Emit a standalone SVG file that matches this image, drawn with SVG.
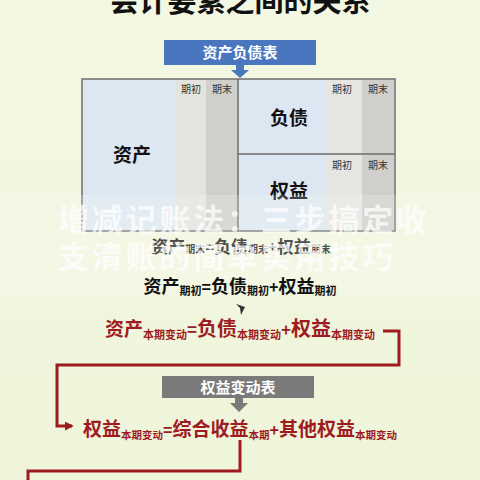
<svg xmlns="http://www.w3.org/2000/svg" width="480" height="480" viewBox="0 0 480 480">
<defs>
<style>
.cjk{font-family:"Noto Sans CJK SC","Noto Sans CJK TC",sans-serif;font-weight:bold}
.hd{font-family:"Noto Sans CJK SC",sans-serif;font-size:10px;fill:#333}
.red{fill:#9e1b1f}
.conn{fill:none;stroke:#9e1b1f;stroke-width:3}
</style>
<linearGradient id="bg" x1="0" y1="0" x2="0" y2="1">
<stop offset="0" stop-color="#f3f8e3"/>
<stop offset="1" stop-color="#eef5da"/>
</linearGradient>
<marker id="ah" viewBox="0 0 10 10" refX="8" refY="5" markerWidth="3" markerHeight="3" orient="auto">
<path d="M0,0 L10,5 L0,10 z" fill="#9e1b1f"/>
</marker>
</defs>
<rect width="480" height="480" fill="url(#bg)"/>
<text class="cjk" x="240" y="12" font-size="29" text-anchor="middle" fill="#111">会计要素之间的关系</text>

<g id="bs-title">
<rect x="164" y="40" width="152" height="25" fill="#4a76c0"/>
<text class="cjk" x="240" y="58" font-size="15" text-anchor="middle" fill="#fff">资产负债表</text>
<path d="M236,65 h8 v5 h5 l-9,8 l-9,-8 h5 z" fill="#4a76c0"/>
</g>

<g id="table">
<rect x="82" y="79" width="313" height="152" fill="#dde7f1" stroke="#6d6d6d" stroke-width="1.5"/>
<rect x="176" y="80" width="30" height="150" fill="#e3e4df"/>
<rect x="206" y="80" width="32" height="150" fill="#cfcfcb"/>
<rect x="325" y="80" width="37" height="150" fill="#e6e5e2"/>
<rect x="362" y="80" width="32" height="150" fill="#d0cfcb"/>
<line x1="238" y1="79" x2="238" y2="231" stroke="#6d6d6d" stroke-width="1.5"/>
<line x1="238" y1="154" x2="395" y2="154" stroke="#6d6d6d" stroke-width="1.5"/>
<text class="hd" x="191" y="93" text-anchor="middle">期初</text>
<text class="hd" x="222" y="93" text-anchor="middle">期末</text>
<text class="hd" x="342" y="93" text-anchor="middle">期初</text>
<text class="hd" x="378" y="93" text-anchor="middle">期末</text>
<text class="hd" x="342" y="169" text-anchor="middle">期初</text>
<text class="hd" x="378" y="169" text-anchor="middle">期末</text>
<text class="cjk" x="132" y="162" font-size="19" text-anchor="middle" fill="#111">资产</text>
<text class="cjk" x="289" y="125" font-size="19" text-anchor="middle" fill="#111">负债</text>
<text class="cjk" x="289" y="198" font-size="19" text-anchor="middle" fill="#111">权益</text>
</g>

<g id="eq-end">
<text class="cjk" x="241" y="253" text-anchor="middle" fill="#222"><tspan font-size="17">资产</tspan><tspan font-size="10">期末</tspan><tspan font-size="15">=</tspan><tspan font-size="17">负债</tspan><tspan font-size="10">期末</tspan><tspan font-size="15">+</tspan><tspan font-size="17">权益</tspan><tspan font-size="10">期末</tspan></text>
</g>

<rect x="0" y="195" width="480" height="100" fill="#ffffff" opacity="0.2"/>
<g id="watermark" opacity="0.72">
<text class="cjk" x="58" y="231" font-size="31" letter-spacing="2.8" fill="#ffffff">增减记账法：三步搞定收</text>
<text class="cjk" x="58" y="268" font-size="31" letter-spacing="2.8" fill="#ffffff">支清账的简单实用技巧</text>
</g>

<g id="eq-begin">
<text class="cjk" x="240" y="293" text-anchor="middle" fill="#111"><tspan font-size="18">资产</tspan><tspan font-size="11" dy="2">期初</tspan><tspan font-size="16" dy="-2">=</tspan><tspan font-size="18">负债</tspan><tspan font-size="11" dy="2">期初</tspan><tspan font-size="16" dy="-2">+</tspan><tspan font-size="18">权益</tspan><tspan font-size="11" dy="2">期初</tspan></text>
<path d="M236,304 L245,307 L241,315 L240,308 z" fill="#333"/>
</g>

<g id="eq-change">
<text class="cjk red" x="240" y="336" text-anchor="middle"><tspan font-size="19">资产</tspan><tspan font-size="11" dy="3">本期变动</tspan><tspan font-size="17" dy="-3">=</tspan><tspan font-size="20">负债</tspan><tspan font-size="11" dy="3">本期变动</tspan><tspan font-size="17" dy="-3">+</tspan><tspan font-size="20">权益</tspan><tspan font-size="11" dy="3">本期变动</tspan></text>
</g>

<g id="eq-title">
<rect x="162" y="376" width="152" height="22" fill="#7a7a7a"/>
<text class="cjk" x="238" y="393" font-size="15" text-anchor="middle" fill="#fff">权益变动表</text>
<path d="M235,398 h8 v5 h5 l-9,9 l-9,-9 h5 z" fill="#7a7a7a"/>
</g>

<g id="eq-equity">
<text class="cjk red" x="240" y="436" text-anchor="middle"><tspan font-size="19">权益</tspan><tspan font-size="10.5" dy="3">本期变动</tspan><tspan font-size="16" dy="-3">=</tspan><tspan font-size="19">综合收益</tspan><tspan font-size="10.5" dy="3">本期</tspan><tspan font-size="16" dy="-3">+</tspan><tspan font-size="19">其他权益</tspan><tspan font-size="10.5" dy="3">本期变动</tspan></text>
</g>

<g id="connectors">
<polyline class="conn" points="383,331 399,331 399,365 57,365 57,426 72,426" marker-end="url(#ah)"/>
<polyline class="conn" points="240,440 240,471 28,471 28,480"/>
</g>
</svg>
